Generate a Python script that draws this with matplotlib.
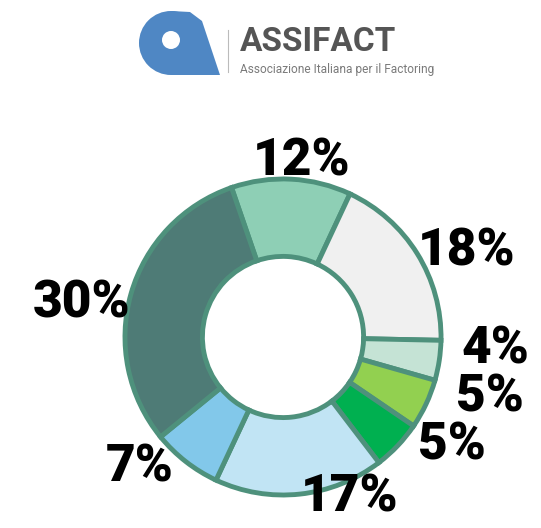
import matplotlib
matplotlib.use("Agg")
import matplotlib.pyplot as plt
from matplotlib.patches import Circle, Polygon

# Share of each category (percent), clockwise from the top
labels = ["12%", "18%", "4%", "5%", "5%", "17%", "7%", "30%"]
values = [12, 18, 4, 5, 5, 17, 7, 30]
colors = ["#8ECFB5", "#F0F0F0", "#C5E3D5", "#92D050",
          "#00B050", "#C1E4F4", "#82C8EA", "#4E7B76"]
edge = "#4E917C"

W, H = 541, 528
fig = plt.figure(figsize=(W / 100, H / 100), dpi=100)
ax = fig.add_axes([0, 0, 1, 1])

def Y(py):
    return H - py

# Donut
cx, cy, R = 283, Y(337), 158
explode = [0.02, 0.02, 0.0, 0.0, 0.0, 0.0, 0.02, 0.02]
wedges, _ = ax.pie(values, colors=colors, startangle=109, counterclock=False,
                   center=(cx, cy), radius=R, explode=explode,
                   wedgeprops=dict(width=R * 0.49, edgecolor=edge, linewidth=3.5),
                   frame=True)
ax.set_xlim(0, W)
ax.set_ylim(0, H)
ax.set_aspect("equal")
ax.axis("off")

# Percentage labels
label_pos = [(302, 162), (467, 252), (495, 350), (490, 398),
             (452, 445), (350, 497), (140, 468), (82, 303)]
for txt, (px, py) in zip(labels, label_pos):
    ax.text(px, Y(py), txt, ha="center", va="center", fontsize=37,
            fontweight="black", family="Roboto", color="black")

# Logo mark
blue = "#4F87C4"
ax.add_patch(Circle((171, Y(43)), 32, color=blue, lw=0))
ax.add_patch(Polygon([(171, Y(11)), (190, Y(12)), (202, Y(21)), (220, Y(75)),
                      (171, Y(75))], closed=True, color=blue, lw=0))
ax.add_patch(Circle((171, Y(40)), 9, color="white", lw=0))
ax.plot([228, 228], [Y(30), Y(72)], color="#BBBBBB", lw=0.8)
ax.text(240, Y(42), "ASSIFACT", ha="left", va="center", fontsize=24,
        fontweight="bold", family="Roboto", color="#555555")
ax.text(240, Y(70), "Associazione Italiana per il Factoring", ha="left",
        va="center", fontsize=8.6, family="Roboto", color="#7A7A7A")

fig.savefig("out.png", dpi=100)
